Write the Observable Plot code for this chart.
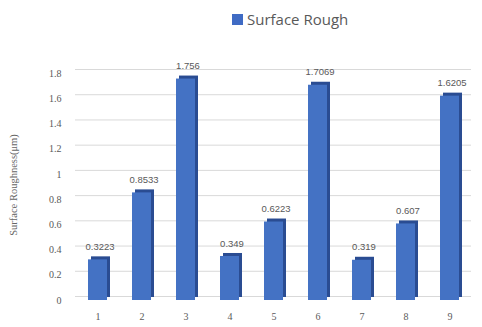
<!DOCTYPE html>
<html><head><meta charset="utf-8">
<script src="https://cdn.jsdelivr.net/npm/d3@7"></script>
<script src="https://cdn.jsdelivr.net/npm/@observablehq/plot@0.6"></script>
<style>
body{margin:0;background:#fff;}
#wrap{position:relative;width:482px;height:327px;overflow:hidden;}
#legend{position:absolute;left:232px;top:9px;font-family:"Open Sans","Liberation Sans",sans-serif;font-size:15px;color:#595959;display:flex;align-items:center;white-space:nowrap;}
#legend span.sw{display:inline-block;width:11px;height:11px;background:#3F6BC4;margin-right:4px;}
#ylab{position:absolute;left:13px;top:185px;transform:translate(-50%,-50%) rotate(-90deg);font-family:"Liberation Serif",serif;font-size:10.5px;color:#666;white-space:nowrap;}
</style></head>
<body><div id="wrap"><div id="legend"><span class="sw"></span>Surface Rough</div><div id="ylab">Surface Roughness(μm)</div><div id="chart"></div></div>
<script>
const categories = ["1","2","3","4","5","6","7","8","9"];
const values = [0.3223, 0.8533, 1.756, 0.349, 0.6223, 1.7069, 0.319, 0.607, 1.6205];
const valueLabels = ["0.3223","0.8533","1.756","0.349","0.6223","1.7069","0.319","0.607","1.6205"];
const yTicks = [0,0.2,0.4,0.6,0.8,1,1.2,1.4,1.6,1.8];

const data = categories.map((c,i)=>({cat:c, v:values[i], label:valueLabels[i]}));

const chart = Plot.plot({
  width: 482, height: 327,
  marginLeft: 75, marginRight: 11, marginTop: 73, marginBottom: 27,
  style: {fontFamily: '"Liberation Serif", serif', fontSize: "10px", color: "#595959", background: "transparent"},
  x: {domain: categories, paddingInner: 0.57, paddingOuter: 0.285, label: null, tickSize: 0, tickPadding: 12},
  y: {domain: [0,1.8], ticks: yTicks, label: null, tickSize: 0, tickPadding: 14, tickFormat: d => String(d)},
  marks: [
    Plot.ruleY(yTicks, {stroke: "#d9d9d9", strokeWidth: 1, dy: -4}),
    Plot.barY(data, {x: "cat", y: "v", fill: "#2A4C92", dx: 3, dy: -3}),
    Plot.barY(data, {x: "cat", y: "v", fill: "#4472C4"}),
    Plot.text(data, {x: "cat", y: "v", text: "label", dy: -13, dx: 2, fill: "#595959", fontSize: 9.5, fontFamily: '"Liberation Sans", sans-serif'})
  ]
});
document.getElementById("chart").appendChild(chart);
</script></body></html>
